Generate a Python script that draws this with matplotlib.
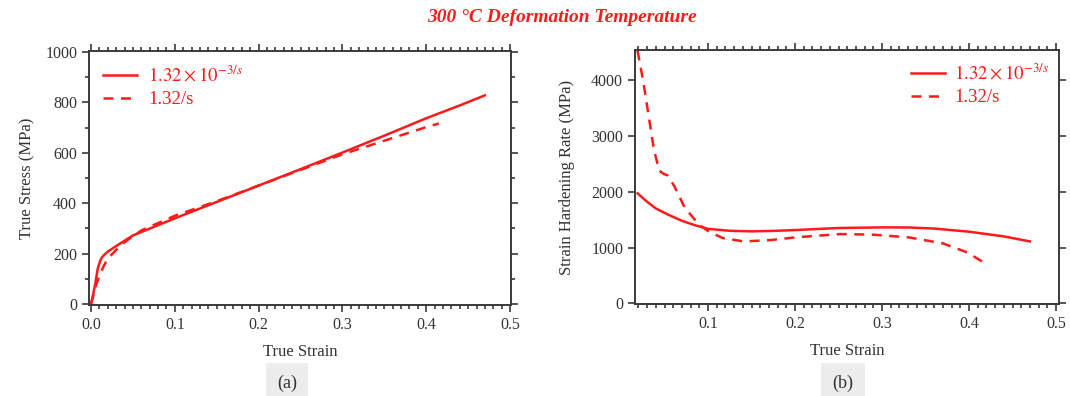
import matplotlib
matplotlib.use("Agg")
import matplotlib.pyplot as plt
from matplotlib.ticker import MultipleLocator

plt.rcParams['font.family'] = 'serif'
plt.rcParams['font.serif'] = ['Liberation Serif', 'DejaVu Serif']
plt.rcParams['mathtext.fontset'] = 'stix'

RED = '#ff1a1a'
GRAY = '#3a3a3a'

# true stress-strain curves
strain_slow = [0.0, 0.002, 0.005, 0.008, 0.011, 0.013, 0.016, 0.02, 0.03, 0.05, 0.1, 0.15,
               0.2, 0.25, 0.3, 0.35, 0.4, 0.44, 0.47]
stress_slow = [0, 30, 80, 140, 172, 185, 196, 208, 230, 272, 340, 405,
               470, 535, 601, 668, 737, 788, 828]
strain_fast = [0.0, 0.003, 0.006, 0.01, 0.015, 0.02, 0.03, 0.04, 0.06, 0.1, 0.15,
               0.2, 0.25, 0.3, 0.35, 0.4, 0.415]
stress_fast = [0, 35, 75, 112, 150, 180, 215, 245, 292, 350, 408,
               470, 532, 594, 648, 702, 716]

# strain hardening rate curves
eps_slow = [0.019, 0.03, 0.04, 0.054, 0.07, 0.085, 0.1, 0.125, 0.15, 0.175, 0.2, 0.25,
            0.3, 0.33, 0.36, 0.4, 0.44, 0.47]
theta_slow = [1970, 1820, 1700, 1590, 1480, 1400, 1335, 1300, 1290, 1298, 1313, 1350,
              1361, 1360, 1340, 1284, 1200, 1110]
eps_fast = [0.019, 0.026, 0.032, 0.038, 0.044, 0.049, 0.054, 0.062, 0.073, 0.089, 0.101,
            0.117, 0.141, 0.172, 0.2, 0.252, 0.291, 0.331, 0.37, 0.398, 0.42]
theta_fast = [4525, 3930, 3330, 2735, 2376, 2320, 2287, 2078, 1720, 1421, 1284,
              1170, 1110, 1134, 1182, 1242, 1230, 1182, 1075, 913, 704]

lbl_slow = r'$1.32\times10^{-3/s}$'
lbl_fast = '1.32/s'

fig = plt.figure(figsize=(10.7, 3.96), dpi=100)
ax1 = fig.add_axes([0.0832, 0.2298, 0.3944, 0.6414])
ax2 = fig.add_axes([0.5935, 0.2323, 0.3963, 0.6414])


def style(ax):
    for s in ax.spines.values():
        s.set_color(GRAY)
        s.set_linewidth(1.4)
    ax.tick_params(which='both', direction='out', top=True, right=True,
                   color=GRAY, width=1.2, labelsize=11.5, labelcolor='#333333')
    ax.tick_params(which='major', length=5)
    ax.tick_params(which='minor', length=3)
    ax.xaxis.set_minor_locator(MultipleLocator(0.01))


ax1.plot(strain_slow, stress_slow, color=RED, lw=1.8, label=lbl_slow)
ax1.plot(strain_fast, stress_fast, color=RED, lw=1.8, ls=(0, (4, 3)), label=lbl_fast)
ax1.set_xlim(-0.0024, 0.5012)
ax1.set_ylim(-4, 1004)
ax1.set_xticks([0.0, 0.1, 0.2, 0.3, 0.4, 0.5])
ax1.set_xticklabels(['0.0', '0.1', '0.2', '0.3', '0.4', '0.5'])
ax1.yaxis.set_major_locator(MultipleLocator(200))
ax1.yaxis.set_minor_locator(MultipleLocator(100))
style(ax1)
ax1.set_xlabel('True Strain', fontsize=12, color='#333333', labelpad=8)
ax1.set_ylabel('True Stress (MPa)', fontsize=12, color='#333333', labelpad=7)
ax1.legend(loc='upper left', frameon=False, fontsize=13.5, labelcolor=RED,
           handlelength=1.8, handletextpad=0.6, borderaxespad=0.35, labelspacing=0.3)

ax2.plot(eps_slow, theta_slow, color=RED, lw=1.8, label=lbl_slow)
ax2.plot(eps_fast, theta_fast, color=RED, lw=1.8, ls=(0, (4, 3)), label=lbl_fast)
ax2.set_xlim(0.0161, 0.5035)
ax2.set_ylim(-10, 4535)
ax2.set_xticks([0.1, 0.2, 0.3, 0.4, 0.5])
ax2.set_xticklabels(['0.1', '0.2', '0.3', '0.4', '0.5'])
ax2.yaxis.set_major_locator(MultipleLocator(1000))
style(ax2)
ax2.set_xlabel('True Strain', fontsize=12, color='#333333', labelpad=8)
ax2.set_ylabel('Strain Hardening Rate (MPa)', fontsize=12, color='#333333', labelpad=12)
ax2.legend(loc='upper right', frameon=False, fontsize=13.5, labelcolor=RED,
           handlelength=1.8, handletextpad=0.5, borderaxespad=0.1, labelspacing=0.3,
           bbox_to_anchor=(1.0, 0.985))

fig.text(0.525, 0.955, '300 \u00b0C Deformation Temperature', ha='center', va='center',
         color=RED, fontsize=14, fontweight='bold', fontstyle='italic')
for xc, tag in [(0.2682, '(a)'), (0.7879, '(b)')]:
    fig.text(xc, 0.033, tag, ha='center', va='center', fontsize=13, color='#333333',
             bbox=dict(facecolor='#ececec', edgecolor='none', pad=8))

fig.savefig('out.png', dpi=100)
